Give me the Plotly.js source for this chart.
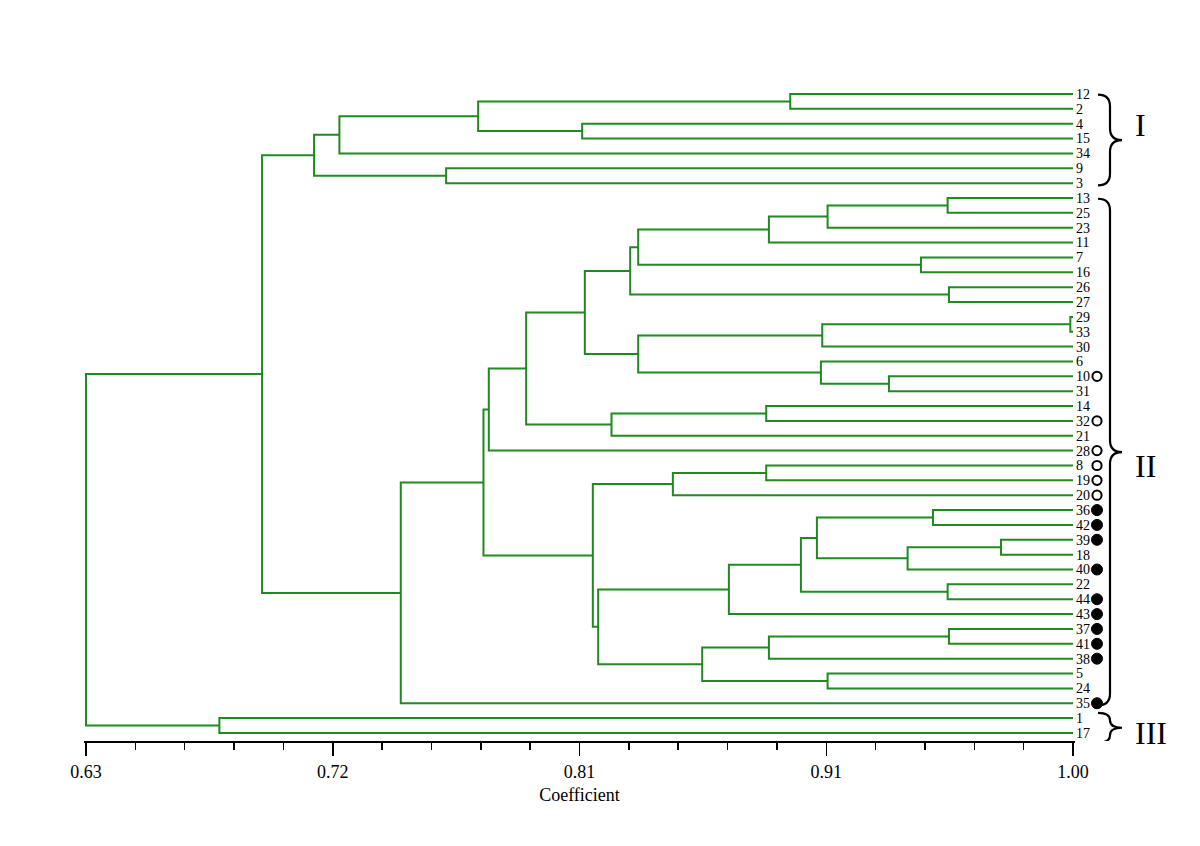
<!DOCTYPE html>
<html>
<head>
<meta charset="utf-8">
<script src="https://cdn.plot.ly/plotly-3.0.1.min.js"></script>
<style>html,body{margin:0;padding:0;background:#fff;}#chart{width:1200px;height:846px;}</style>
</head>
<body>
<div id="chart"></div>
<script>
// Leaves, top to bottom
const leafLabels = ["12","2","4","15","34","9","3","13","25","23","11","7","16","26","27","29","33","30","6","10","31","14","32","21","28","8","19","20","36","42","39","18","40","22","44","43","37","41","38","5","24","35","1","17"];

// Merges (node n1, n2, ... in order): left child, right child, coefficient
const mergeLeft  = ["12","4","n1","n3","9","n4","13","n7","n8","7","n9","26","n11","29","n14","10","6","n15","n13","14","n20","n19","n22","8","n24","36","39","n27","n26","22","n29","n31","37","n33","5","n34","n32","n25","n23","n39","n6","1","n41"];
const mergeRight = ["2","15","n2","34","3","n5","25","23","11","16","n10","27","n12","33","30","31","n16","n17","n18","32","21","n21","28","19","20","42","18","40","n28","44","n30","43","41","38","24","n35","n36","n37","n38","35","n40","17","n42"];
const mergeHeight = [0.894,0.816,0.777,0.725,0.765,0.7155,0.953,0.908,0.886,0.943,0.837,0.9535,0.834,0.999,0.906,0.931,0.9055,0.837,0.817,0.885,0.827,0.795,0.781,0.885,0.850,0.9475,0.973,0.938,0.904,0.953,0.898,0.871,0.9535,0.886,0.908,0.861,0.822,0.820,0.779,0.748,0.696,0.680,0.63];

// Marked accessions
const openMarked = ["10","32","28","8","19","20"];
const filledMarked = ["36","42","39","40","44","43","37","41","38","35"];

// Groups
const groupNames = ["I","II","III"];
const groupFirst = ["12","13","1"];
const groupLast = ["3","35","17"];

// Axis ticks
const tickLabels = ["0.63","0.72","0.81","0.91","1.00"];
const axisMin = 0.63, axisMax = 1.00;

// ---- geometry helpers ----
const W = 1200, H = 846, ML = 84, MR = 125;
const plotW = W - ML - MR;
const px = p => (p - ML) / plotW;   // pixel column -> paper x
const pad = 0.00075;

// ---- build dendrogram geometry ----
const pos = {};
leafLabels.forEach((l, i) => { pos[l] = {x: axisMax, y: i}; });
const lx = [], ly = [];
mergeLeft.forEach((a, k) => {
  const b = mergeRight[k], h = mergeHeight[k];
  const A = pos[a], B = pos[b];
  lx.push(A.x, h, h, B.x, null);
  ly.push(A.y, A.y, B.y, B.y, null);
  pos["n" + (k + 1)] = {x: h, y: (A.y + B.y) / 2};
});

const idx = l => leafLabels.indexOf(l);

const traces = [
  {type: "scatter", mode: "lines", x: lx, y: ly, line: {color: "#1f8a1f", width: 2}, hoverinfo: "skip"}
];

const shapes = [], annotations = [];

// ---- marker circles next to labels ----
const mx = px(1097);
openMarked.forEach(l => shapes.push({type: "circle", xref: "paper", yref: "y",
  xsizemode: "pixel", ysizemode: "pixel", xanchor: mx, yanchor: idx(l),
  x0: -4.6, x1: 4.6, y0: -4.6, y1: 4.6, line: {color: "black", width: 2}, fillcolor: "white"}));
filledMarked.forEach(l => shapes.push({type: "circle", xref: "paper", yref: "y",
  xsizemode: "pixel", ysizemode: "pixel", xanchor: mx, yanchor: idx(l),
  x0: -5.5, x1: 5.5, y0: -5.5, y1: 5.5, line: {color: "black", width: 1}, fillcolor: "black"}));

// ---- braces and group labels ----
const x0 = px(1098), xs = px(1110), xt = px(1122);
const textOffsets = [-1.0, 0.95, 0.35];
groupNames.forEach((g, i) => {
  const top = idx(groupFirst[i]) + (i === 2 ? -0.35 : 0.05);
  const bot = idx(groupLast[i]) + (i === 2 ? 0.65 : 0.15);
  const mid = (top + bot) / 2;
  const r = Math.min(0.8, (bot - top) / 4);
  const path = `M ${x0},${top} Q ${xs},${top} ${xs},${top + r} L ${xs},${mid - r} Q ${xs},${mid} ${xt},${mid} ` +
               `Q ${xs},${mid} ${xs},${mid + r} L ${xs},${bot - r} Q ${xs},${bot} ${x0},${bot}`;
  shapes.push({type: "path", xref: "paper", yref: "y", path: path, line: {color: "black", width: 2.2}});
  annotations.push({xref: "paper", yref: "y", x: px(1133), y: mid + textOffsets[i], text: g, showarrow: false,
    xanchor: "left", yanchor: "middle", font: {family: "Liberation Serif", size: 32, color: "black"}});
});

const step = (axisMax - axisMin) / (tickLabels.length - 1);
const tickVals = tickLabels.map((_, i) => axisMin + i * step);

const layout = {
  width: W, height: H,
  margin: {l: ML, r: MR, t: 80, b: 105},
  paper_bgcolor: "white", plot_bgcolor: "white",
  showlegend: false,
  xaxis: {
    range: [axisMin - pad, axisMax + pad], tickmode: "array", tickvals: tickVals, ticktext: tickLabels,
    ticks: "outside", ticklen: 13, tickwidth: 1.5, tickcolor: "black",
    showline: true, linecolor: "black", linewidth: 2, showgrid: false, zeroline: false,
    tickfont: {family: "Liberation Serif", size: 18, color: "black"},
    title: {text: "Coefficient", font: {family: "Liberation Serif", size: 18, color: "black"}, standoff: 8},
    minor: {tickmode: "linear", tick0: axisMin, dtick: step / 5, ticks: "outside", ticklen: 7, tickwidth: 1.5, tickcolor: "black", showgrid: false}
  },
  yaxis: {
    range: [43.54, -0.94], tickmode: "array", tickvals: leafLabels.map((_, i) => i), ticktext: leafLabels,
    side: "right", ticks: "", showline: false, showgrid: false, zeroline: false,
    tickfont: {family: "Liberation Serif", size: 14, color: "black"}
  },
  shapes: shapes,
  annotations: annotations
};

Plotly.newPlot("chart", traces, layout, {displayModeBar: false, staticPlot: true});
</script>
</body>
</html>
